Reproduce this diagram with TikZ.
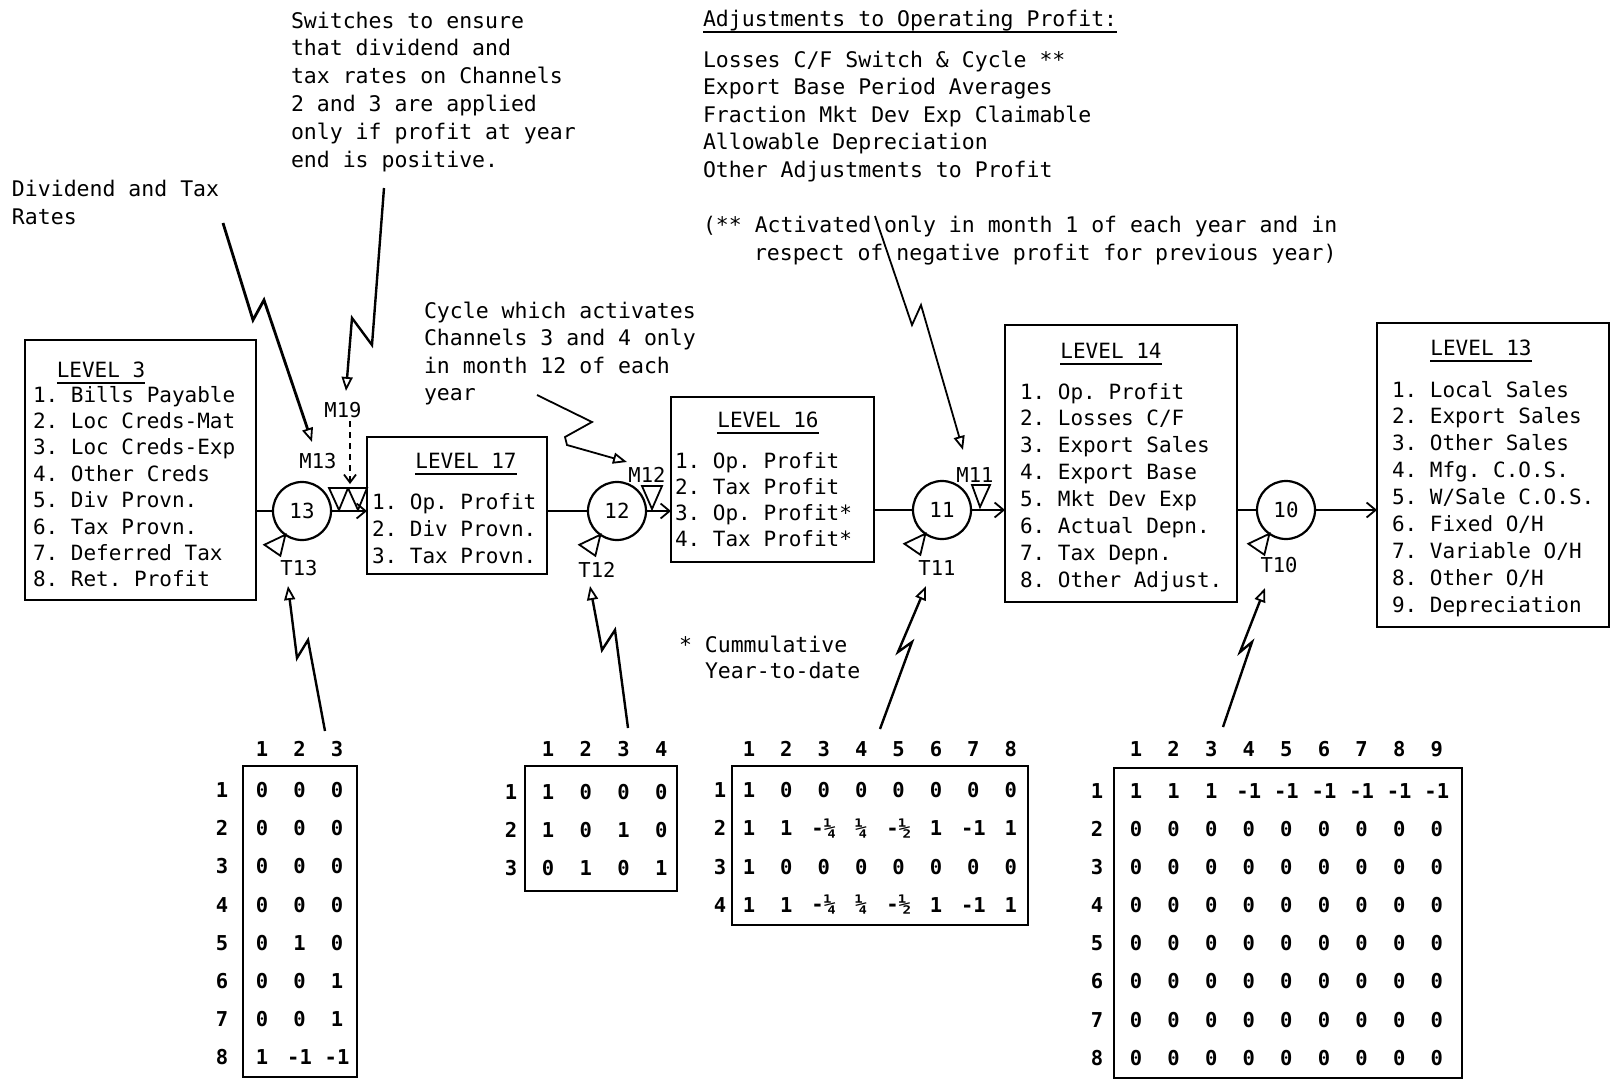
\documentclass[tikz,border=0pt]{standalone}
\usepackage{fontspec}
\setmainfont{DejaVu Sans Mono}
\setmonofont{DejaVu Sans Mono}
\usetikzlibrary{arrows.meta}
\frenchspacing
\begin{document}
\begin{tikzpicture}[x=1pt,y=-1pt,
  every node/.style={inner sep=0pt, outer sep=0pt},
  bt/.style={font=\fontsize{21}{26}\selectfont, anchor=base west},
  ttl/.style={font=\fontsize{21}{26}\selectfont, anchor=base},
  nt/.style={font=\fontsize{21.5}{27.6}\selectfont, anchor=base west},
  lvl/.style={draw, line width=2.2pt, anchor=north west},
  circ/.style={draw, circle, line width=2.2pt, minimum size=58pt, font=\fontsize{20.8}{26}\selectfont},
  lab/.style={font=\fontsize{20.5}{26}\selectfont, anchor=base},
  mnum/.style={font=\bfseries\fontsize{20.5}{24}\selectfont},
  mbox/.style={draw, line width=2.2pt, anchor=north west},
  flow/.style={line width=2pt},
  flowarr/.style={line width=2pt, -{Straight Barb[length=9pt,width=15pt,line width=1.8pt]}},
  zig/.style={line width=2.4pt, line join=miter, -{Triangle[open,length=14pt,width=11pt,line width=1.8pt]}},
  dasharr/.style={line width=2pt, dash pattern=on 6pt off 5pt, -{Straight Barb[length=8pt,width=12pt,line width=1.8pt]}},
  uline/.style={line width=1.8pt},
  tri/.style={line width=1.8pt, line join=miter}
]
\fill[white] (0,0) rectangle (1614,1082);
\useasboundingbox (0,0) rectangle (1614,1082);

% ---------- top notes ----------
\foreach \itm [count=\i] in {Dividend and Tax,Rates}
  \node[nt] (dv\i) at (12,{196+28*(\i-1)}) {\itm};
\foreach \itm [count=\i] in {Switches to ensure,that dividend and,tax rates on Channels,2 and 3 are applied,only if profit at year,end is positive.}
  \node[nt] (sw\i) at (291,{28+27.8*(\i-1)}) {\itm};
\node[nt] (adjt) at (703,26) {Adjustments to Operating Profit:};
\draw[uline] ([yshift=-6pt]adjt.base west) -- ([yshift=-6pt]adjt.base east);
\foreach \itm [count=\i] in {Losses C/F Switch \& Cycle **,Export Base Period Averages,Fraction Mkt Dev Exp Claimable,Allowable Depreciation,Other Adjustments to Profit}
  \node[nt] (adj\i) at (703,{67+27.5*(\i-1)}) {\itm};
\node[nt] (act1) at (703,232) {(** Activated only in month 1 of each year and in};
\node[nt] (act2) at (754,260) {respect of negative profit for previous year)};
\foreach \itm [count=\i] in {Cycle which activates,Channels 3 and 4 only,in month 12 of each,year}
  \node[nt] (cy\i) at (424,{318+27.6*(\i-1)}) {\itm};
\node[nt] (cum1) at (679,652) {* Cummulative};
\node[nt] (cum2) at (705,678) {Year-to-date};

% ---------- level boxes ----------
\node[lvl, minimum width=231pt, minimum height=260pt] (L3) at (25,340) {};
\node[ttl] (t3) at (101,377) {LEVEL 3};
\draw[uline] ([yshift=-6pt]t3.base west) -- ([yshift=-6pt]t3.base east);
\foreach \itm [count=\i] in {Bills Payable,Loc Creds-Mat,Loc Creds-Exp,Other Creds,Div Provn.,Tax Provn.,Deferred Tax,Ret. Profit}
  \node[bt] (l3i\i) at (33,{402+26.4*(\i-1)}) {\i. \itm};

\node[lvl, minimum width=180pt, minimum height=137pt] (L17) at (367,437) {};
\node[ttl] (t17) at (466,468) {LEVEL 17};
\draw[uline] ([yshift=-6pt]t17.base west) -- ([yshift=-6pt]t17.base east);
\foreach \itm [count=\i] in {Op. Profit,Div Provn.,Tax Provn.}
  \node[bt] (l17i\i) at (372,{509+27*(\i-1)}) {\i. \itm};

\node[lvl, minimum width=203pt, minimum height=165pt] (L16) at (671,397) {};
\node[ttl] (t16) at (768,427) {LEVEL 16};
\draw[uline] ([yshift=-6pt]t16.base west) -- ([yshift=-6pt]t16.base east);
\foreach \itm [count=\i] in {Op. Profit,Tax Profit,Op. Profit*,Tax Profit*}
  \node[bt] (l16i\i) at (675,{468+26.3*(\i-1)}) {\i. \itm};

\node[lvl, minimum width=232pt, minimum height=277pt] (L14) at (1005,325) {};
\node[ttl] (t14) at (1111,358) {LEVEL 14};
\draw[uline] ([yshift=-6pt]t14.base west) -- ([yshift=-6pt]t14.base east);
\foreach \itm [count=\i] in {Op. Profit,Losses C/F,Export Sales,Export Base,Mkt Dev Exp,Actual Depn.,Tax Depn.,Other Adjust.}
  \node[bt] (l14i\i) at (1020,{399+26.9*(\i-1)}) {\i. \itm};

\node[lvl, minimum width=232pt, minimum height=304pt] (L13) at (1377,323) {};
\node[ttl] (t13) at (1481,355) {LEVEL 13};
\draw[uline] ([yshift=-6pt]t13.base west) -- ([yshift=-6pt]t13.base east);
\foreach \itm [count=\i] in {Local Sales,Export Sales,Other Sales,Mfg. C.O.S.,W/Sale C.O.S.,Fixed O/H,Variable O/H,Other O/H,Depreciation}
  \node[bt] (l13i\i) at (1392,{397+26.9*(\i-1)}) {\i. \itm};

% ---------- circles ----------
\node[circ] (c13) at (302,511) {13};
\node[circ] (c12) at (617,511) {12};
\node[circ] (c11) at (942,510) {11};
\node[circ] (c10) at (1286,510) {10};

\draw[flow] (L3.east |- c13) -- (c13);
\draw[flowarr] (c13) -- (L17.west |- c13);
\draw[flow] (L17.east |- c12) -- (c12);
\draw[flowarr] (c12) -- (L16.west |- c12);
\draw[flow] (L16.east |- c11) -- (c11);
\draw[flowarr] (c11) -- (L14.west |- c11);
\draw[flow] (L14.east |- c10) -- (c10);
\draw[flowarr] (c10) -- (L13.west |- c10);

% ---------- M / T labels ----------
\node[lab] (M13) at (318,468) {M13};
\node[lab] (M19) at (343,417) {M19};
\node[lab] (T13) at (299,575) {T13};
\node[lab] (M12) at (647,482) {M12};
\node[lab] (T12) at (597,577) {T12};
\node[lab] (M11) at (975,482) {M11};
\node[lab] (T11) at (937,575) {T11};
\node[lab] (T10) at (1279,572) {T10};

% switch triangles
\draw[tri] (329,488) -- (348,488) -- (339,510) -- cycle;
\draw[tri] (348,488) -- (367,488) -- (358,510) -- cycle;
\draw[tri] (642,486) -- (662,486) -- (652,509) -- cycle;
\draw[tri] (972,485) -- (990,485) -- (980,507) -- cycle;
% timing triangles
\foreach \c in {c13,c12,c11,c10}
  \draw[tri] (\c.-125) -- ++(-21,10) -- ++(16,11) -- cycle;

\coordinate (m19tip) at (350,484);
\draw[dasharr] (M19.south) ++(7,4) coordinate (m19s) (m19s) -- (m19tip);

% ---------- zigzag connectors ----------
\coordinate (zd0) at (223,223);
\coordinate (zd3) at (312,442);
\draw[zig, line width=2.8pt] (zd0) -- (253,320) -- (264,300) -- (zd3);
\coordinate (zs0) at (384,188);
\coordinate (zs3) at (346,391);
\draw[zig] (zs0) -- (372,345) -- (352,318) -- (zs3);
\coordinate (zc0) at (537,395);
\coordinate (zc3) at (627,462);
\draw[zig, line width=1.8pt] (zc0) -- (592,422) -- (565,437) -- (567,445) -- (zc3);
\coordinate (za0) at (875,216);
\coordinate (za3) at (963,450);
\draw[zig, line width=1.8pt] (za0) -- (912,325) -- (921,305) -- (za3);

\coordinate (zt13) at (325,731);
\coordinate (zt12) at (628,728);
\coordinate (zt11) at (880,729);
\coordinate (zt10) at (1223,727);
\draw[zig] (zt13) -- (308,640) -- (297,658) -- (288,586);
\draw[zig] (zt12) -- (615,630) -- (602,650) -- (590,586);
\draw[zig] (zt11) -- (912,642) -- (898,652) -- (926,586);
\draw[zig] (zt10) -- (1252,642) -- (1240,652) -- (1265,588);

% ---------- matrices ----------
% M1
\node[mbox, minimum width=114pt, minimum height=311pt] (mat1) at (243,766) {};
\foreach \h [count=\c] in {1,2,3}
  \node[mnum] (m1h\c) at ({262+37.5*(\c-1)},749) {\h};
\foreach \row [count=\r] in {{0,0,0},{0,0,0},{0,0,0},{0,0,0},{0,1,0},{0,0,1},{0,0,1},{1,-1,-1}} {
  \node[mnum] (m1r\r) at (222,{790+38.2*(\r-1)}) {\r};
  \foreach \v [count=\c] in \row
    \node[mnum] (m1-\r-\c) at ({262+37.5*(\c-1)},{790+38.2*(\r-1)}) {\v};
}
% M2
\node[mbox, minimum width=152pt, minimum height=125pt] (mat2) at (525,766) {};
\foreach \h [count=\c] in {1,2,3,4}
  \node[mnum] (m2h\c) at ({548+37.8*(\c-1)},749) {\h};
\foreach \row [count=\r] in {{1,0,0,0},{1,0,1,0},{0,1,0,1}} {
  \node[mnum] (m2r\r) at (511,{792+38*(\r-1)}) {\r};
  \foreach \v [count=\c] in \row
    \node[mnum] (m2-\r-\c) at ({548+37.8*(\c-1)},{792+38*(\r-1)}) {\v};
}
% M3
\node[mbox, minimum width=296pt, minimum height=159pt] (mat3) at (732,766) {};
\foreach \h [count=\c] in {1,2,3,4,5,6,7,8}
  \node[mnum] (m3h\c) at ({749+37.4*(\c-1)},749) {\h};
\foreach \row [count=\r] in {{1,0,0,0,0,0,0,0},{1,1,-¼,¼,-½,1,-1,1},{1,0,0,0,0,0,0,0},{1,1,-¼,¼,-½,1,-1,1}} {
  \node[mnum] (m3r\r) at (720,{790+38.3*(\r-1)}) {\r};
  \foreach \v [count=\c] in \row
    \node[mnum] (m3-\r-\c) at ({749+37.4*(\c-1)},{790+38.3*(\r-1)}) {\v};
}
% M4
\node[mbox, minimum width=348pt, minimum height=310pt] (mat4) at (1114,768) {};
\foreach \h [count=\c] in {1,2,3,4,5,6,7,8,9}
  \node[mnum] (m4h\c) at ({1136+37.6*(\c-1)},749) {\h};
\foreach \row [count=\r] in {{1,1,1,-1,-1,-1,-1,-1,-1},{0,0,0,0,0,0,0,0,0},{0,0,0,0,0,0,0,0,0},{0,0,0,0,0,0,0,0,0},{0,0,0,0,0,0,0,0,0},{0,0,0,0,0,0,0,0,0},{0,0,0,0,0,0,0,0,0},{0,0,0,0,0,0,0,0,0}} {
  \node[mnum] (m4r\r) at (1097,{791+38.1*(\r-1)}) {\r};
  \foreach \v [count=\c] in \row
    \node[mnum] (m4-\r-\c) at ({1136+37.6*(\c-1)},{791+38.1*(\r-1)}) {\v};
}
\end{tikzpicture}
\end{document}
